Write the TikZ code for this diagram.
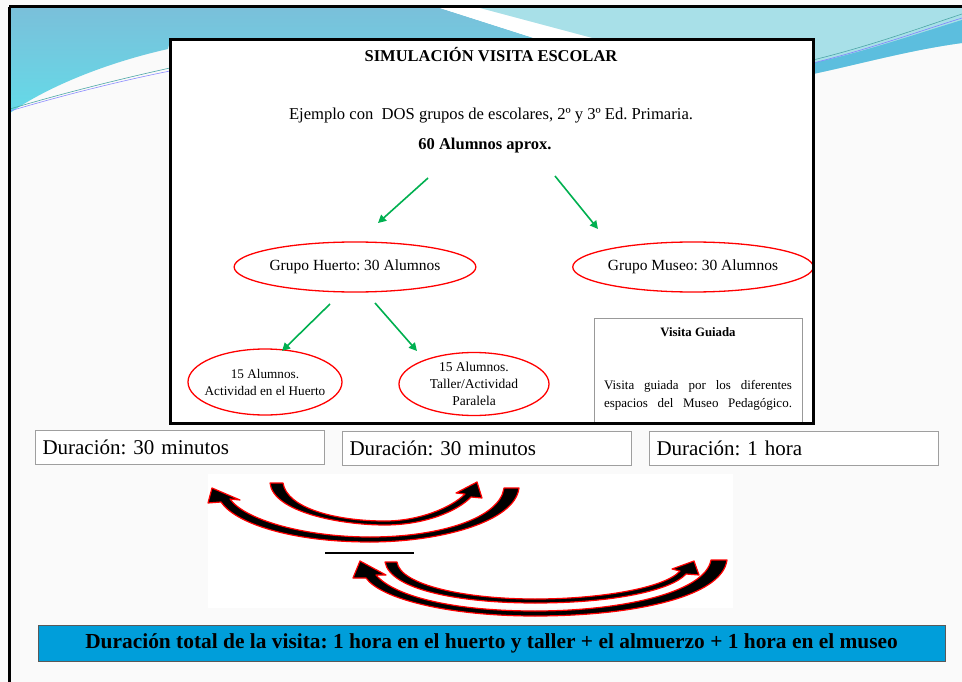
\documentclass[tikz,border=0pt]{standalone}
\usepackage{fontspec}
\setmainfont{Liberation Serif}
\usetikzlibrary{shapes.geometric,arrows.meta}

\definecolor{fondo}{RGB}{250,250,250}
\definecolor{azulA}{RGB}{122,192,218}
\definecolor{azulB}{RGB}{100,218,232}
\definecolor{azulC}{RGB}{168,224,232}
\definecolor{azulD}{RGB}{92,190,222}
\definecolor{verde}{RGB}{0,176,80}
\definecolor{barra}{RGB}{0,158,218}

\tikzset{
  grupo/.style={ellipse,draw=red,line width=1.3pt,fill=white,inner sep=0pt,align=center},
  duracion/.style={draw=gray!75,line width=1pt,fill=white,anchor=north west,
    minimum width=289pt,minimum height=34pt,text width=275pt,inner xsep=7pt,align=left,
    font=\fontsize{21}{24}\selectfont},
  flecha/.style={draw=verde,line width=1.6pt,-{Triangle[length=8pt,width=8pt]}},
  curva/.style={fill=black,draw=red,line width=1.2pt,line join=round}
}

\begin{document}
\frenchspacing
\begin{tikzpicture}[x=1pt,y=-1pt]

  \fill[fondo] (0,0) rectangle (962,682);
  \useasboundingbox (0,0) rectangle (962,682);

  % fondo de la diapositiva
  \shade[top color=azulA,bottom color=azulB] (10,8) -- (440,8) -- (540,40) -- (170,40) -- (168,49)
    .. controls (110,62) and (50,85) .. (10,113) -- cycle;
  \fill[white] (440,8) -- (480,8) -- (600,40) -- (540,40) -- cycle;
  \fill[azulC] (480,8) -- (962,8) -- (962,43) .. controls (910,50) and (860,64) .. (813,74)
    -- (813,40) -- (600,40) -- cycle;
  \fill[azulD] (813,74) .. controls (860,64) and (910,50) .. (962,43) -- (962,20)
    .. controls (910,36) and (860,53) .. (813,63) -- cycle;
  \draw[teal!70,line width=0.6pt] (813,60) .. controls (870,46) and (920,28) .. (962,14);
  \draw[blue!50,line width=0.6pt] (813,63) .. controls (870,49) and (920,31) .. (962,18);
  \draw[teal!70,line width=0.6pt] (10,109) .. controls (60,94) and (120,79) .. (170,68);
  \draw[blue!45,line width=0.6pt] (10,111) .. controls (60,96) and (120,81) .. (170,71);

  % recuadro principal
  \fill[white] (170,40) rectangle (813,423);

  \node (titulo) at (491,55) {\fontsize{16.5}{20}\selectfont\bfseries SIMULACIÓN VISITA ESCOLAR};
  \node (ejemplo) at (491,116) {\fontsize{16.6}{20}\selectfont Ejemplo con\ \ DOS grupos de escolares, 2º y 3º Ed. Primaria.};
  \node (alumnos) at (485,146) {\fontsize{16.5}{20}\selectfont\bfseries 60 Alumnos aprox.};

  \begin{scope}[every node/.style={grupo}]
    \node (huerto) at (355,267) [minimum width=222pt,minimum height=50pt,font=\fontsize{15.5}{18}\selectfont]
      {Grupo Huerto: 30 Alumnos};
    \node (museo) at (693,267) [minimum width=223pt,minimum height=50pt,font=\fontsize{15.5}{18}\selectfont]
      {Grupo Museo: 30 Alumnos};
    \node (h1) at (265,382) [minimum width=154pt,minimum height=66pt,inner xsep=-10pt,font=\fontsize{13.2}{17}\selectfont]
      {15 Alumnos.\\ Actividad en el Huerto};
    \node (h2) at (474,384) [minimum width=150pt,minimum height=63pt,font=\fontsize{13.5}{17}\selectfont]
      {15 Alumnos.\\ Taller/Actividad\\ Paralela};
  \end{scope}

  % flechas verdes
  \coordinate (a1) at (428,178);
  \coordinate (a2) at (378,223);
  \coordinate (a3) at (555,176);
  \coordinate (a4) at (598,229);
  \coordinate (b1) at (330,304);
  \coordinate (b2) at (282,351);
  \coordinate (b3) at (375,303);
  \coordinate (b4) at (417,351);
  \draw[flecha] (a1) -- (a2);
  \draw[flecha] (a3) -- (a4);
  \draw[flecha] (b1) -- (b2);
  \draw[flecha] (b3) -- (b4);

  % visita guiada
  \draw[gray!80,line width=1pt,fill=white] (594,318) rectangle (802,423);
  \node (guiada) at (698,332) {\fontsize{12.8}{16}\selectfont\bfseries Visita Guiada};
  \node (g1) at (698,386) {\fontsize{13}{16}\selectfont\makebox[188pt][s]{Visita guiada por los diferentes}};
  \node (g2) at (698,404) {\fontsize{13}{16}\selectfont\makebox[188pt][s]{espacios del Museo Pedagógico.}};

  \draw[line width=3pt] (170,40) rectangle (813,423);

  % duraciones
  \node[duracion] (d1) at (35,430) {Duración: 30 minutos};
  \node[duracion] (d2) at (342,431) {Duración: 30 minutos};
  \node[duracion] (d3) at (649,431) {Duración: 1 hora};

  % flechas curvas
  \fill[white] (208,474) rectangle (733,608);
  \draw[curva] (270,483) .. controls (273,512) and (340,525) .. (385,525)
    .. controls (425,525) and (458,511) .. (471,497) -- (482,498) -- (477,482) -- (456,493) -- (465,494)
    .. controls (452,507) and (420,521) .. (385,521) .. controls (335,521) and (287,508) .. (283,483) -- cycle;
  \draw[curva] (519,488) .. controls (515,522) and (440,542) .. (370,542)
    .. controls (290,542) and (235,523) .. (221,502) -- (208,503) -- (212,488) -- (240,500) -- (230,499)
    .. controls (245,520) and (305,537) .. (370,537) .. controls (440,537) and (500,518) .. (504,488) -- cycle;
  \draw[curva] (385,562) .. controls (390,590) and (460,603) .. (535,603)
    .. controls (615,603) and (672,590) .. (686,574) -- (699,575) -- (694,561) -- (672,569) -- (680,571)
    .. controls (665,588) and (600,599) .. (535,599) .. controls (465,599) and (400,585) .. (397,562) -- cycle;
  \draw[curva] (727,560) .. controls (722,598) and (630,616) .. (535,616)
    .. controls (445,616) and (380,598) .. (366,578) -- (353,578) -- (360,561) -- (386,575) -- (376,575)
    .. controls (395,597) and (455,611) .. (535,611) .. controls (620,611) and (705,593) .. (711,560) -- cycle;
  \draw[line width=2.5pt] (325,553) -- (414,553);

  % duracion total
  \node (total) [fill=barra,draw=gray!70!black,line width=0.8pt,minimum width=907pt,minimum height=36pt]
    at (491.5,643) {\fontsize{21.4}{24}\selectfont\bfseries Duración total de la visita: 1 hora en el huerto y taller + el almuerzo + 1 hora en el museo};

  % marco
  \draw[line width=3pt] (9,7) -- (962,7);
  \draw[line width=3pt] (9,7) -- (9,682);

\end{tikzpicture}
\end{document}
